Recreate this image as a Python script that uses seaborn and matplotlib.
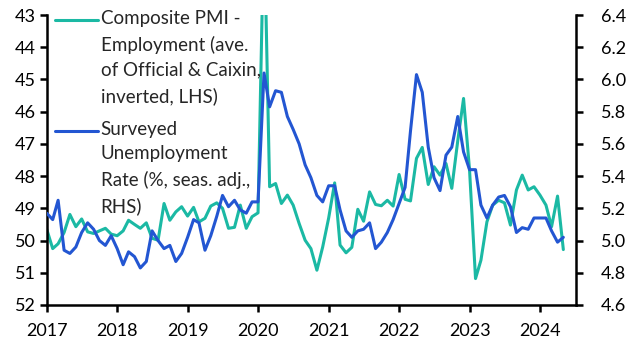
import numpy as np
import pandas as pd
import seaborn as sns
import matplotlib.pyplot as plt
import matplotlib.dates as mdates
from matplotlib.ticker import FormatStrFormatter
from matplotlib.legend_handler import HandlerLine2D

# monthly data, Jan 2017 - May 2024
months = pd.date_range("2017-01-01", periods=89, freq="MS")

# Composite PMI employment (ave. of Official & Caixin), plotted inverted on LHS
pmi_employment = [
    49.65, 50.25, 50.10, 49.75, 49.19, 49.57, 49.33, 49.73, 49.78, 49.70, 49.62, 49.80,
    49.85, 49.70, 49.37, 49.50, 49.62, 49.45, 49.93, 49.99, 48.85, 49.37, 49.11, 48.95,
    49.24, 48.97, 49.42, 49.31, 48.93, 48.83, 49.00, 49.62, 49.59, 48.90, 49.62, 49.26,
    49.14, 40.00, 48.33, 48.23, 48.85, 48.59, 48.90, 49.47, 49.99, 50.25, 50.92, 50.20,
    49.30, 48.21, 50.14, 50.38, 50.21, 49.03, 49.40, 48.49, 48.88, 48.92, 48.75, 48.93,
    47.95, 48.72, 48.77, 47.45, 47.11, 48.26, 47.71, 47.97, 47.61, 48.38, 46.90, 45.59,
    47.81, 51.18, 50.61, 49.42, 48.90, 48.75, 48.83, 49.52, 48.43, 47.97, 48.43, 48.33,
    48.59, 48.90, 49.57, 48.62, 50.28,
]

# Surveyed unemployment rate (%, seas. adj.), RHS
unemployment = [
    5.17, 5.13, 5.25, 4.94, 4.92, 4.96, 5.05, 5.11, 5.07, 5.00, 4.97, 5.03,
    4.95, 4.85, 4.93, 4.90, 4.83, 4.87, 5.06, 5.00, 4.95, 4.97, 4.87, 4.92,
    5.02, 5.13, 5.11, 4.94, 5.03, 5.15, 5.28, 5.21, 5.25, 5.19, 5.17, 5.24,
    5.24, 6.04, 5.83, 5.93, 5.92, 5.77, 5.69, 5.60, 5.47, 5.39, 5.28, 5.24,
    5.34, 5.34, 5.19, 5.06, 5.02, 5.06, 5.07, 5.11, 4.95, 4.99, 5.05, 5.13,
    5.23, 5.33, 5.68, 6.03, 5.92, 5.58, 5.39, 5.31, 5.53, 5.58, 5.77, 5.55,
    5.44, 5.44, 5.22, 5.14, 5.22, 5.27, 5.28, 5.21, 5.05, 5.08, 5.07, 5.14,
    5.14, 5.14, 5.06, 4.99, 5.02,
]

pmi_label = "Composite PMI -\nEmployment (ave.\nof Official & Caixin,\ninverted, LHS)"
unemp_label = "Surveyed\nUnemployment\nRate (%, seas. adj.,\nRHS)"

df = pd.DataFrame({"date": months, "pmi": pmi_employment, "unemp": unemployment})

sns.set_theme(style="ticks")
plt.rcParams["font.family"] = ["Lato", "DejaVu Sans"]

teal = "#1BB9A4"
blue = "#2356D2"
fs = 13          # tick labels
leg_fs = 13.5    # legend text
row_pts = 18     # legend row pitch in points (25 px)


class TopLineHandler(HandlerLine2D):
    # put the legend line level with the first row of a multi-line label
    def __init__(self, nlines, **kw):
        super().__init__(**kw)
        self.nlines = nlines

    def create_artists(self, legend, orig_handle, xdescent, ydescent, width, height, fontsize, trans):
        artists = super().create_artists(legend, orig_handle, xdescent, ydescent, width, height, fontsize, trans)
        shift = (self.nlines - 1) / 2 * row_pts
        for a in artists:
            a.set_ydata(np.asarray(a.get_ydata()) + shift)
        return artists


fig, ax = plt.subplots(figsize=(6.28, 3.53), dpi=100)
fig.subplots_adjust(left=0.0744, right=0.917, bottom=0.136, top=0.9575)
ax2 = ax.twinx()

sns.lineplot(data=df, x="date", y="pmi", ax=ax, color=teal, linewidth=2.2, legend=False)
sns.lineplot(data=df, x="date", y="unemp", ax=ax2, color=blue, linewidth=2.2, legend=False)

ax.set_ylim(52, 43)
ax.set_yticks(range(43, 53))
ax2.set_ylim(4.6, 6.4)
ax2.set_yticks(np.arange(4.6, 6.41, 0.2))
ax2.yaxis.set_major_formatter(FormatStrFormatter("%.1f"))

ax.set_xlim(pd.Timestamp("2017-01-01"), pd.Timestamp("2024-07-05"))
ax.xaxis.set_major_locator(mdates.YearLocator())
ax.xaxis.set_major_formatter(mdates.DateFormatter("%Y"))

for a in (ax, ax2):
    a.set_xlabel("")
    a.set_ylabel("")
    a.spines["top"].set_visible(False)
    for s in a.spines.values():
        s.set_linewidth(1.8)
        s.set_color("black")
ax.spines["right"].set_visible(False)
ax2.spines["left"].set_visible(False)
ax2.spines["bottom"].set_visible(False)

ax.tick_params(axis="y", direction="out", length=5, width=1.8, pad=3, labelsize=fs, colors="black")
ax.tick_params(axis="x", direction="out", length=5, width=1.8, pad=8, labelsize=fs, colors="black")
ax2.tick_params(axis="y", direction="out", length=5, width=1.8, pad=13, labelsize=fs, colors="black")

h1 = ax.get_lines()[0]
h2 = ax2.get_lines()[0]
leg = ax2.legend(
    [h1, h2], [pmi_label, unemp_label],
    loc="upper left", bbox_to_anchor=(0.015, 1.017),
    frameon=False, fontsize=leg_fs, handlelength=2.3, handletextpad=0.15,
    labelspacing=0.85, borderpad=0, borderaxespad=0,
    handler_map={h1: TopLineHandler(4), h2: TopLineHandler(4)},
)
for t in leg.get_texts():
    t.set_linespacing(1.56)

plt.savefig("out.png", dpi=100, facecolor="white")
